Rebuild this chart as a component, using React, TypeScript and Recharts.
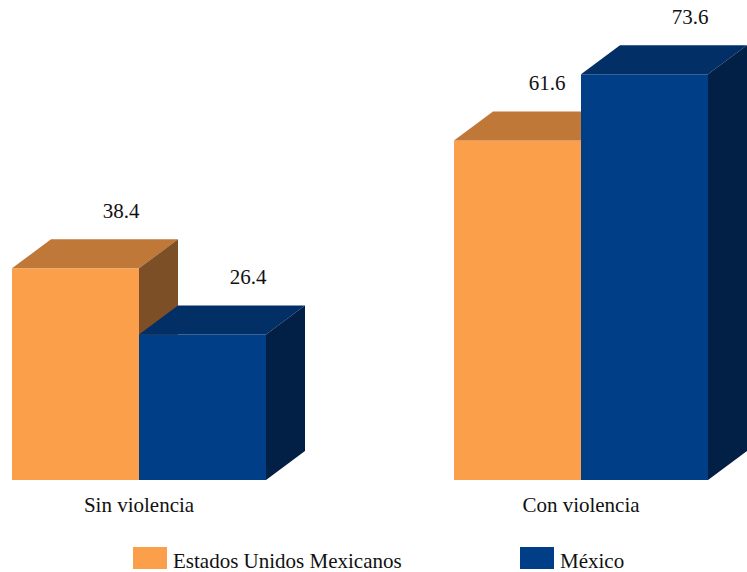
import React from 'react';
import { BarChart, Bar, XAxis, YAxis, Legend } from 'recharts';

const categories = ['Sin violencia', 'Con violencia'];
const eumValues = [38.4, 61.6];
const mexicoValues = [26.4, 73.6];
const seriesNames = ['Estados Unidos Mexicanos', 'México'];

const data = categories.map((name, i) => ({
  name,
  eum: eumValues[i],
  mexico: mexicoValues[i],
}));

const FONT = '"Liberation Serif", "Times New Roman", serif';
const DEPTH_X = 39;
const DEPTH_Y = 29;

const palette = {
  eum: { front: '#FB9F4B', top: '#BF7838', side: '#7D4F26' },
  mexico: { front: '#003F88', top: '#022F66', side: '#021F46' },
};

const makeShape = (key: 'eum' | 'mexico') => (props: any) => {
  const { x, y, width, height, payload } = props;
  const c = palette[key];
  const r = x + width;
  const b = y + height;
  // label sits over the back-right corner, nudged left when the neighbour bar is taller
  let lx = r - 18;
  if (key === 'eum' && payload.mexico > payload.eum) lx = r - 34;
  const value = payload[key];
  return (
    <g>
      <rect x={x} y={y} width={width} height={height} fill={c.front} />
      <polygon
        points={`${x},${y} ${x + DEPTH_X},${y - DEPTH_Y} ${r + DEPTH_X},${y - DEPTH_Y} ${r},${y}`}
        fill={c.top}
      />
      <polygon
        points={`${r},${y} ${r + DEPTH_X},${y - DEPTH_Y} ${r + DEPTH_X},${b - DEPTH_Y} ${r},${b}`}
        fill={c.side}
      />
      <text
        x={lx}
        y={y - DEPTH_Y - 21}
        textAnchor="middle"
        fontSize={21}
        fontFamily={FONT}
        fill="#111"
      >
        {value.toFixed(1)}
      </text>
    </g>
  );
};

const LegendContent = () => (
  <svg width={747} height={25} style={{ display: 'block' }}>
    <rect x={133} y={0} width={34} height={22} fill={palette.eum.front} />
    <text x={173} y={21} fontSize={21} fontFamily={FONT} fill="#111">
      {seriesNames[0]}
    </text>
    <rect x={520} y={0} width={34} height={22} fill={palette.mexico.front} />
    <text x={560} y={21} fontSize={21} fontFamily={FONT} fill="#111">
      {seriesNames[1]}
    </text>
  </svg>
);

export default function App() {
  return (
    <div style={{ position: 'absolute', left: 0, top: 0, fontFamily: FONT, background: '#fff' }}>
      <BarChart
        width={747}
        height={572}
        data={data}
        margin={{ top: 39, right: -55, bottom: 0, left: -82 }}
        barSize={127}
        barGap={0}
      >
        <XAxis
          dataKey="name"
          axisLine={false}
          tickLine={false}
          height={67}
          tickMargin={11}
          tick={{ fontSize: 21, fill: '#111', fontFamily: FONT }}
          interval={0}
        />
        <YAxis hide domain={[0, 80]} />
        <Legend
          verticalAlign="bottom"
          content={<LegendContent />}
          wrapperStyle={{ left: 0, width: 747, height: 25, bottom: 0 }}
        />
        <Bar dataKey="eum" name={seriesNames[0]} fill={palette.eum.front} shape={makeShape('eum')} isAnimationActive={false} />
        <Bar dataKey="mexico" name={seriesNames[1]} fill={palette.mexico.front} shape={makeShape('mexico')} isAnimationActive={false} />
      </BarChart>
    </div>
  );
}
